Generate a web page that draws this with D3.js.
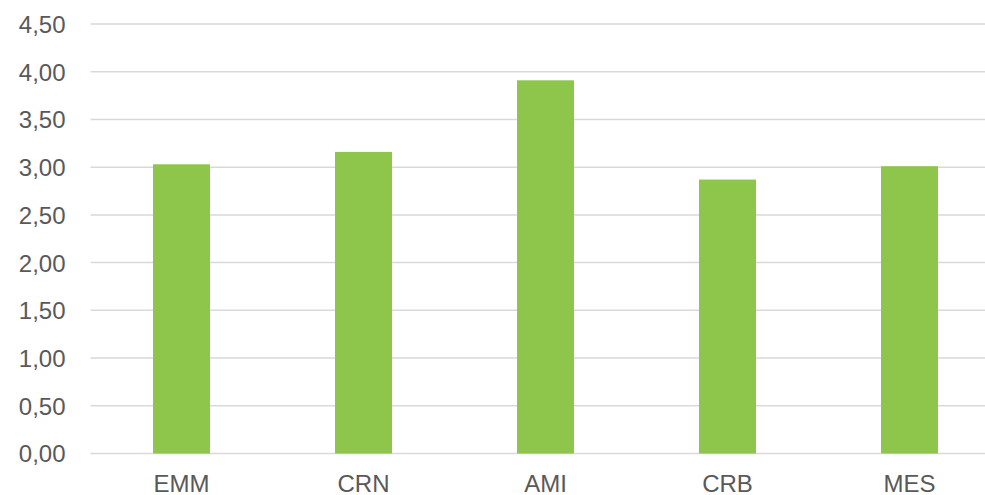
<!DOCTYPE html>
<html>
<head>
<meta charset="utf-8">
<script src="https://cdn.jsdelivr.net/npm/d3@7"></script>
<style>
html,body{margin:0;padding:0;background:#fff;}
svg{display:block;}
</style>
</head>
<body>
<svg id="chart" width="985" height="495"></svg>
<script>
const categories = ["EMM", "CRN", "AMI", "CRB", "MES"];
const values = [3.03, 3.16, 3.91, 2.87, 3.01];
const yTicks = [0, 0.5, 1, 1.5, 2, 2.5, 3, 3.5, 4, 4.5];

const svg = d3.select("#chart");
const margin = {left: 90.5, right: -15.5, top: 24, bottom: 41.5};
const W = 985, H = 495;
const x = d3.scaleBand().domain(categories)
  .range([margin.left, W - margin.right]).paddingInner(0.687).paddingOuter(0.3435);
const y = d3.scaleLinear().domain([0, 4.5]).range([H - margin.bottom, margin.top]);

const fmt = v => d3.format(".2f")(v).replace(".", ",");

// gridlines
svg.append("g").selectAll("line").data(yTicks).join("line")
  .attr("x1", margin.left).attr("x2", W)
  .attr("y1", d => y(d)).attr("y2", d => y(d))
  .attr("stroke", "#d9d9d9").attr("stroke-width", 1.5);

// y axis labels
const yAxis = d3.axisLeft(y).tickValues(yTicks).tickFormat(fmt).tickSize(0).tickPadding(0);
const ya = svg.append("g").attr("transform", `translate(${65.5},0)`).call(yAxis);
ya.select(".domain").remove();
ya.selectAll("text").attr("fill", "#595959")
  .style("font-family", "'Liberation Sans', Arial, sans-serif").style("font-size", "24px")
  .attr("dy", "0.35em");

// bars
svg.append("g").selectAll("rect").data(values).join("rect")
  .attr("x", (d, i) => x(categories[i]))
  .attr("width", x.bandwidth())
  .attr("y", d => y(d))
  .attr("height", d => y(0) - y(d))
  .attr("fill", "#8dc64a");

// x axis labels
const xAxis = d3.axisBottom(x).tickSize(0).tickPadding(0);
const xa = svg.append("g").attr("transform", `translate(0,${y(0)})`).call(xAxis);
xa.select(".domain").remove();
xa.selectAll("text").attr("fill", "#595959")
  .style("font-family", "'Liberation Sans', Arial, sans-serif").style("font-size", "24px")
  .attr("dy", null).attr("y", 38);
</script>
</body>
</html>
